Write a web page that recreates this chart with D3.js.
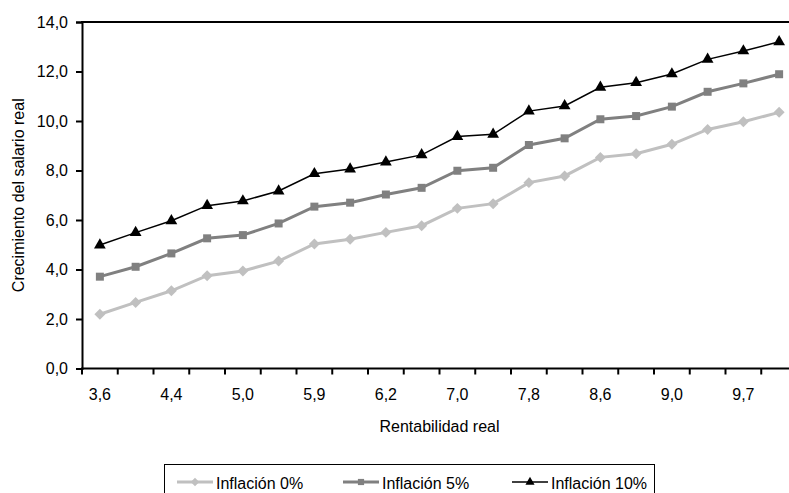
<!DOCTYPE html>
<html>
<head>
<meta charset="utf-8">
<script src="https://cdn.jsdelivr.net/npm/d3@7"></script>
<style>
  body { margin: 0; background: #fff; }
  text { font-family: "Liberation Sans", Arial, sans-serif; font-size: 16px; fill: #000; }
</style>
</head>
<body>
<svg id="chart" width="789" height="493"></svg>
<script>
// rentabilidad real (only every other one is labelled in the chart)
var rentab = ["3,6","4,0","4,4","4,7","5,0","5,5","5,9","6,0","6,2","6,6","7,0","7,4","7,8","8,2","8,6","8,8","9,0","9,4","9,7","10,0"];

var infl0  = [2.19,2.67,3.14,3.75,3.94,4.34,5.03,5.22,5.50,5.77,6.47,6.66,7.51,7.78,8.53,8.68,9.06,9.66,9.97,10.35];
var infl5  = [3.71,4.11,4.65,5.26,5.39,5.86,6.54,6.70,7.03,7.30,7.99,8.11,9.03,9.30,10.07,10.20,10.58,11.18,11.52,11.89];
var infl10 = [4.99,5.49,5.97,6.58,6.77,7.17,7.87,8.06,8.34,8.63,9.37,9.46,10.40,10.61,11.36,11.55,11.90,12.49,12.83,13.20];

var yTicks = [0,2,4,6,8,10,12,14];

var series = [
  {name:"Inflación 0%",  values:infl0,  color:"#c0c0c0", width:3,   marker:"diamond"},
  {name:"Inflación 5%",  values:infl5,  color:"#808080", width:3,   marker:"square"},
  {name:"Inflación 10%", values:infl10, color:"#000000", width:1.5, marker:"triangle"}
];

var svg = d3.select("#chart");
var mLeft = 82, mRight = 797, mTop = 22, mBottom = 368.5;

var x = d3.scaleBand().domain(d3.range(rentab.length)).range([mLeft, mRight]);
var y = d3.scaleLinear().domain([0, 14]).range([mBottom, mTop]);

var fmt = function(v){ return d3.format(".1f")(v).replace(".", ","); };

// y axis
var yAxis = svg.append("g")
  .attr("transform", "translate(" + mLeft + ",0)")
  .call(d3.axisLeft(y).tickValues(yTicks).tickSize(6).tickPadding(8).tickFormat(fmt));
yAxis.attr("font-family", null).attr("font-size", null);
yAxis.select(".domain").attr("stroke-width", 2);
yAxis.selectAll(".tick line").attr("stroke-width", 2);

// top border
svg.append("line")
  .attr("x1", mLeft - 1).attr("x2", mRight)
  .attr("y1", mTop).attr("y2", mTop)
  .attr("stroke", "#000").attr("stroke-width", 2);

// x axis: ticks between categories, labels every other one
var xg = svg.append("g").attr("transform", "translate(0," + mBottom + ")");
xg.append("line").attr("x1", mLeft - 1).attr("x2", mRight)
  .attr("stroke", "#000").attr("stroke-width", 2);
xg.selectAll(".xt").data(d3.range(rentab.length + 1)).enter().append("line")
  .attr("x1", function(i){ return mLeft + i * x.step(); })
  .attr("x2", function(i){ return mLeft + i * x.step(); })
  .attr("y1", 0).attr("y2", 6)
  .attr("stroke", "#000").attr("stroke-width", 2);
xg.selectAll(".xl").data(rentab).enter().append("text")
  .attr("x", function(d, i){ return x(i) + x.bandwidth() / 2; })
  .attr("y", 31)
  .attr("text-anchor", "middle")
  .text(function(d, i){ return i % 2 === 0 ? d : ""; });

// axis titles
svg.append("text").attr("x", (mLeft + mRight) / 2).attr("y", 431.5)
  .attr("text-anchor", "middle").text("Rentabilidad real");
svg.append("text")
  .attr("transform", "translate(24," + (mTop + mBottom) / 2 + ") rotate(-90)")
  .attr("text-anchor", "middle").text("Crecimiento del salario real");

var symbols = {diamond: d3.symbolSquare, square: d3.symbolSquare, triangle: d3.symbolTriangle};
var sizes = {diamond: 60, square: 64, triangle: 60};
var rot = {diamond: 45, square: 0, triangle: 0};

var line = d3.line()
  .x(function(d, i){ return x(i) + x.bandwidth() / 2; })
  .y(function(d){ return y(d); });

series.forEach(function(s){
  svg.append("path")
    .attr("d", line(s.values))
    .attr("fill", "none")
    .attr("stroke", s.color)
    .attr("stroke-width", s.width);
  svg.selectAll(".m-" + s.marker).data(s.values).enter().append("path")
    .attr("class", "m-" + s.marker)
    .attr("transform", function(d, i){
      return "translate(" + (x(i) + x.bandwidth() / 2) + "," + y(d) + ") rotate(" + rot[s.marker] + ")";
    })
    .attr("d", d3.symbol().type(symbols[s.marker]).size(sizes[s.marker]))
    .attr("fill", s.color);
});

// legend
var lg = svg.append("g");
lg.append("rect").attr("x", 164.5).attr("y", 464.5).attr("width", 490).attr("height", 40)
  .attr("fill", "#fff").attr("stroke", "#000").attr("stroke-width", 1);
var legendX = [177, 343, 512];
series.forEach(function(s, k){
  var g = lg.append("g").attr("transform", "translate(" + legendX[k] + ",482)");
  g.append("line").attr("x1", 0).attr("x2", 36)
    .attr("stroke", s.color).attr("stroke-width", s.width);
  g.append("path").attr("transform", "translate(18,0) rotate(" + rot[s.marker] + ")")
    .attr("d", d3.symbol().type(symbols[s.marker]).size(sizes[s.marker] * 0.6))
    .attr("fill", s.color);
  g.append("text").attr("x", 39).attr("y", 6.5).text(s.name);
});
</script>
</body>
</html>
